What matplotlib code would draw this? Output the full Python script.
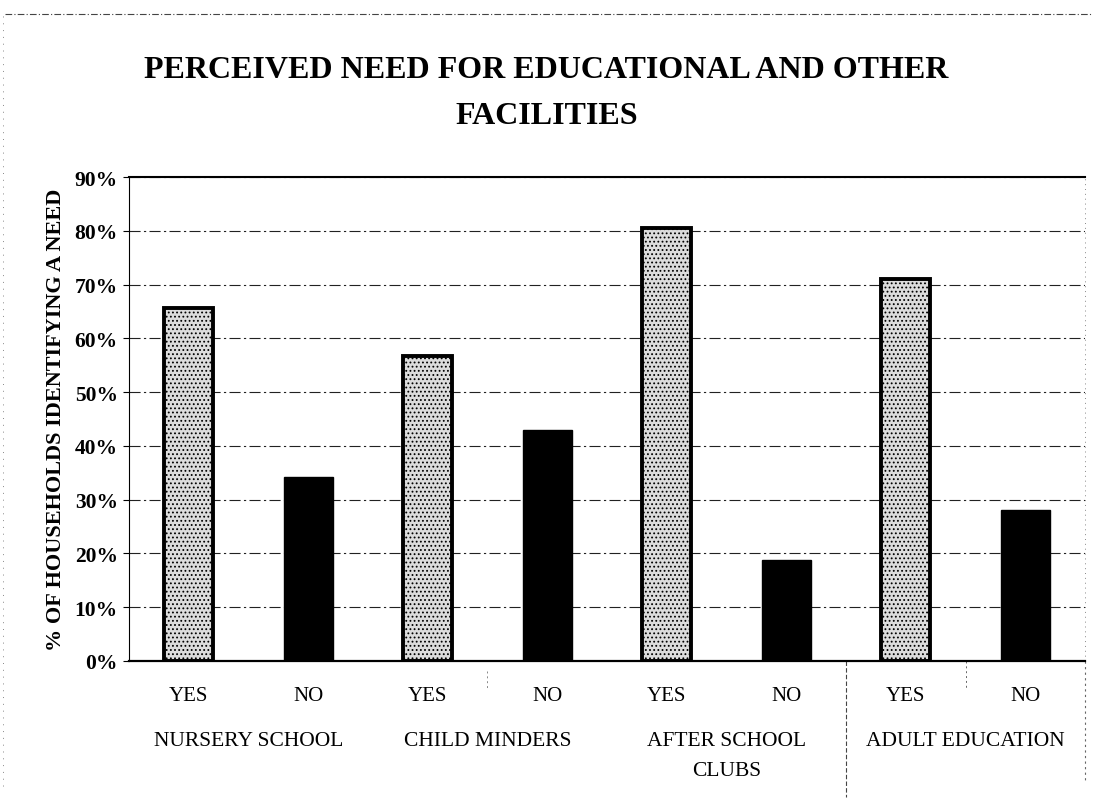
import matplotlib
matplotlib.use("Agg")
import matplotlib.pyplot as plt
from matplotlib.ticker import PercentFormatter
from matplotlib.transforms import blended_transform_factory

groups = ["NURSERY SCHOOL", "CHILD MINDERS", "AFTER SCHOOL\nCLUBS", "ADULT EDUCATION"]
answers = ["YES", "NO"]
yes_values = [0.657, 0.567, 0.806, 0.710]
no_values = [0.343, 0.429, 0.188, 0.280]
yticks = [0.0, 0.1, 0.2, 0.3, 0.4, 0.5, 0.6, 0.7, 0.8, 0.9]
title = "PERCEIVED NEED FOR EDUCATIONAL AND OTHER\nFACILITIES"
ylabel = "% OF HOUSEHOLDS IDENTIFYING A NEED"

plt.rcParams['font.family'] = ['Liberation Serif', 'DejaVu Serif']
plt.rcParams['hatch.color'] = '#7a7a7a'
plt.rcParams['hatch.linewidth'] = 0.8

fig = plt.figure(figsize=(10.93, 8.03), dpi=100)
ax = fig.add_axes([0.118, 0.1756, 0.8747, 0.6027])

n = len(groups)
x_yes = [2 * i for i in range(n)]
x_no = [2 * i + 1 for i in range(n)]
bw = 0.41
ax.bar(x_yes, yes_values, width=bw, facecolor='#dcdcdc', edgecolor='black',
       linewidth=2.8, hatch='....', zorder=3)
ax.bar(x_no, no_values, width=bw, facecolor='black', edgecolor='black',
       linewidth=1.0, zorder=3)

ax.set_xlim(-0.5, 2 * n - 0.5)
ax.set_ylim(0, 0.9)
ax.set_yticks(yticks)
ax.yaxis.set_major_formatter(PercentFormatter(1.0, decimals=0))
ax.set_xticks([])
for lbl in ax.get_yticklabels():
    lbl.set_fontweight('bold')
    lbl.set_fontsize(15.5)
ax.tick_params(axis='y', length=4, width=0.8, pad=4)

ax.yaxis.grid(True, linestyle=(0, (10, 3, 2, 3)), color='#222222', linewidth=0.8, zorder=0)
ax.set_axisbelow(True)

ax.spines['right'].set_visible(False)
ax.spines['top'].set_linewidth(1.5)
ax.spines['bottom'].set_linewidth(1.6)
ax.spines['left'].set_linewidth(0.8)
ax.spines['left'].set_linestyle((0, (2, 1)))

ax.set_ylabel(ylabel, fontsize=16, fontweight='bold', labelpad=6)

trans = blended_transform_factory(ax.transData, ax.transAxes)
for i in range(n):
    ax.text(x_yes[i], -0.072, answers[0], transform=trans, ha='center', va='center', fontsize=15)
    ax.text(x_no[i], -0.072, answers[1], transform=trans, ha='center', va='center', fontsize=15)
    ax.text((x_yes[i] + x_no[i]) / 2, -0.145, groups[i], transform=trans, ha='center', va='top',
            fontsize=15.5, linespacing=1.75)

# faint category separators from the scanned multi-level axis
ax.plot([5.5, 5.5], [0, -0.28], transform=trans, color='#444444', lw=0.8,
        linestyle=(0, (4, 2)), clip_on=False)
ax.plot([7.5, 7.5], [0, -0.25], transform=trans, color='#666666', lw=0.8,
        linestyle=(0, (2, 3)), clip_on=False)
ax.plot([6.5, 6.5], [0, -0.06], transform=trans, color='#666666', lw=0.7,
        linestyle=(0, (2, 3)), clip_on=False)
ax.plot([2.5, 2.5], [-0.02, -0.06], transform=trans, color='#888888', lw=0.7,
        linestyle=(0, (2, 3)), clip_on=False)
ax.plot([7.5, 7.5], [0, 1], transform=trans, color='#888888', lw=0.7,
        linestyle=(0, (1, 4)), clip_on=False)

# scanned page border
fig.add_artist(plt.Line2D([0.005, 1.0], [0.981, 0.981], color='#444444', lw=0.8,
                          linestyle=(0, (6, 2, 1, 2))))
fig.add_artist(plt.Line2D([0.003, 0.003], [0.02, 0.98], color='#888888', lw=0.7,
                          linestyle=(0, (1, 6))))

fig.text(0.5, 0.8836, title, ha='center', va='center', fontsize=23, fontweight='bold',
         linespacing=1.75)

fig.savefig("out.png", dpi=100)
